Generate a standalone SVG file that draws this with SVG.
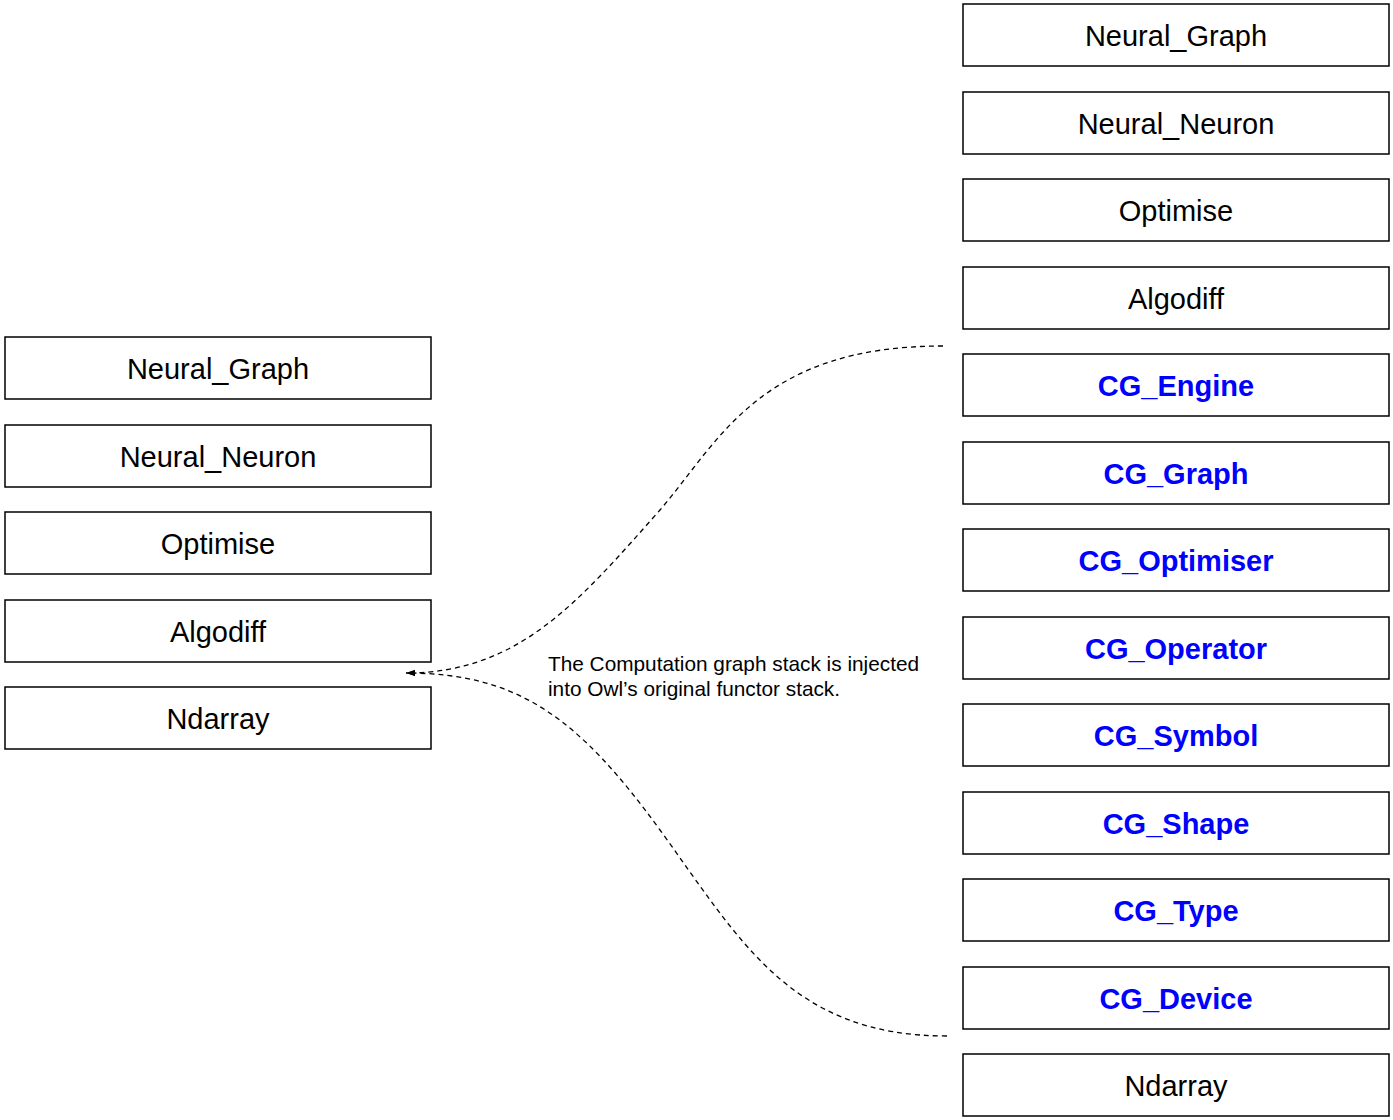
<svg xmlns="http://www.w3.org/2000/svg" width="1393" height="1120" viewBox="0 0 1393 1120">
<style>
.box{fill:#fff;stroke:#000;stroke-width:1.5}
.lbl{font-family:"Liberation Sans",Arial,sans-serif;font-size:29px;text-anchor:middle;fill:#000}
.cg{fill:#0000ff;font-weight:bold}
.conn{fill:none;stroke:#000;stroke-width:1.3;stroke-dasharray:5,4}
.note{font-family:"Liberation Sans",Arial,sans-serif;font-size:20.8px;fill:#000}
</style>
<defs>
<marker id="ah" markerWidth="10" markerHeight="8" refX="9" refY="3.5" orient="auto" markerUnits="userSpaceOnUse">
<path d="M0,0.5 L9,3.5 L0,6.5 Z" fill="#000"/>
</marker>
</defs>
<rect width="1393" height="1120" fill="#fff"/>
<g id="left-neural-graph"><rect class="box" x="5" y="337" width="426" height="62"/><text class="lbl" x="218" y="379">Neural_Graph</text></g>
<g id="left-neural-neuron"><rect class="box" x="5" y="425" width="426" height="62"/><text class="lbl" x="218" y="467">Neural_Neuron</text></g>
<g id="left-optimise"><rect class="box" x="5" y="512" width="426" height="62"/><text class="lbl" x="218" y="554">Optimise</text></g>
<g id="left-algodiff"><rect class="box" x="5" y="600" width="426" height="62"/><text class="lbl" x="218" y="642">Algodiff</text></g>
<g id="left-ndarray"><rect class="box" x="5" y="687" width="426" height="62"/><text class="lbl" x="218" y="729">Ndarray</text></g>

<g id="right-neural-graph"><rect class="box" x="963" y="4" width="426" height="62"/><text class="lbl" x="1176" y="46">Neural_Graph</text></g>
<g id="right-neural-neuron"><rect class="box" x="963" y="92" width="426" height="62"/><text class="lbl" x="1176" y="134">Neural_Neuron</text></g>
<g id="right-optimise"><rect class="box" x="963" y="179" width="426" height="62"/><text class="lbl" x="1176" y="221">Optimise</text></g>
<g id="right-algodiff"><rect class="box" x="963" y="267" width="426" height="62"/><text class="lbl" x="1176" y="309">Algodiff</text></g>
<g id="cg-engine"><rect class="box" x="963" y="354" width="426" height="62"/><text class="lbl cg" x="1176" y="396">CG_Engine</text></g>
<g id="cg-graph"><rect class="box" x="963" y="442" width="426" height="62"/><text class="lbl cg" x="1176" y="484">CG_Graph</text></g>
<g id="cg-optimiser"><rect class="box" x="963" y="529" width="426" height="62"/><text class="lbl cg" x="1176" y="571">CG_Optimiser</text></g>
<g id="cg-operator"><rect class="box" x="963" y="617" width="426" height="62"/><text class="lbl cg" x="1176" y="659">CG_Operator</text></g>
<g id="cg-symbol"><rect class="box" x="963" y="704" width="426" height="62"/><text class="lbl cg" x="1176" y="746">CG_Symbol</text></g>
<g id="cg-shape"><rect class="box" x="963" y="792" width="426" height="62"/><text class="lbl cg" x="1176" y="834">CG_Shape</text></g>
<g id="cg-type"><rect class="box" x="963" y="879" width="426" height="62"/><text class="lbl cg" x="1176" y="921">CG_Type</text></g>
<g id="cg-device"><rect class="box" x="963" y="967" width="426" height="62"/><text class="lbl cg" x="1176" y="1009">CG_Device</text></g>
<g id="right-ndarray"><rect class="box" x="963" y="1054" width="426" height="62"/><text class="lbl" x="1176" y="1096">Ndarray</text></g>

<g id="connectors">
<path class="conn" d="M943,346 C760,346 720,440 660,510 C580,600 520,673 406,673" marker-end="url(#ah)"/>
<path class="conn" d="M947,1036 C790,1036 740,940 660,830 C580,720 520,673 406,673" marker-end="url(#ah)"/>
</g>
<g id="note">
<text class="note" x="548" y="671">The Computation graph stack is injected</text>
<text class="note" x="548" y="696">into Owl’s original functor stack.</text>
</g>
</svg>
